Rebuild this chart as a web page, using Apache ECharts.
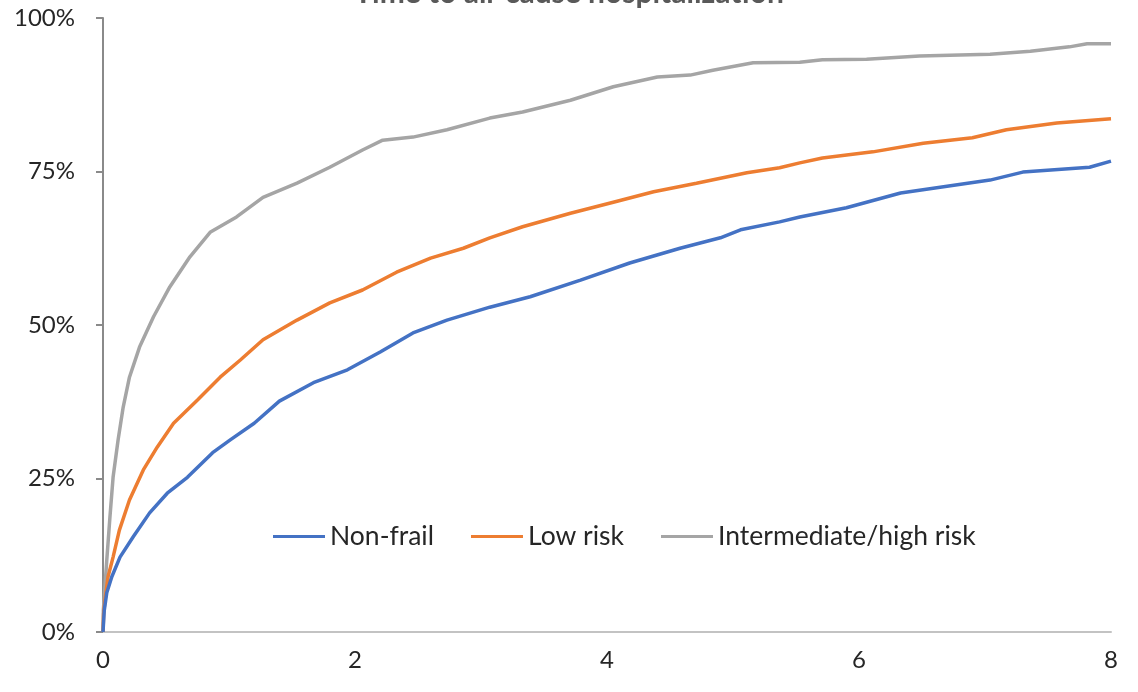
<!DOCTYPE html>
<html>
<head>
<meta charset="utf-8">
<script src="https://cdn.jsdelivr.net/npm/echarts@6/dist/echarts.min.js"></script>
<style>html,body{margin:0;padding:0;background:#fff;}#c{width:1138px;height:692px;}</style>
</head>
<body>
<div id="c"></div>
<script>
const titleText = "Time to all-cause hospitalization";
const seriesNames = ["Non-frail", "Low risk", "Intermediate/high risk"];
const yTicks = [0, 25, 50, 75, 100];
const xTicks = [0, 2, 4, 6, 8];

const nonFrail = [
  [0,0],[0.01,3.5],[0.03,6.4],[0.07,9.0],[0.135,12.2],[0.24,15.5],[0.37,19.4],[0.51,22.6],
  [0.67,25.2],[0.87,29.2],[1.01,31.3],[1.20,34.0],[1.40,37.6],[1.67,40.6],[1.94,42.7],
  [2.20,45.6],[2.46,48.7],[2.73,50.8],[3.07,52.9],[3.39,54.6],[3.79,57.3],[4.18,60.1],
  [4.58,62.5],[4.90,64.2],[5.06,65.5],[5.37,66.8],[5.53,67.6],[5.90,69.1],[6.33,71.5],
  [7.04,73.6],[7.30,74.9],[7.83,75.7],[8.0,76.7]
];
const lowRisk = [
  [0,0],[0.005,3.0],[0.016,5.2],[0.04,9.0],[0.08,12.2],[0.13,16.6],[0.21,21.5],[0.32,26.4],
  [0.43,30.1],[0.56,34.0],[0.75,37.8],[0.93,41.5],[1.09,44.3],[1.27,47.6],[1.54,50.8],
  [1.80,53.6],[2.06,55.7],[2.33,58.6],[2.60,60.9],[2.86,62.5],[3.07,64.2],[3.33,66.0],
  [3.71,68.2],[4.05,70.0],[4.37,71.7],[4.71,73.1],[5.11,74.8],[5.37,75.6],[5.53,76.4],
  [5.71,77.2],[6.11,78.2],[6.51,79.6],[6.90,80.5],[7.17,81.8],[7.57,82.9],[8.0,83.6]
];
const highRisk = [
  [0,0],[0.003,3.6],[0.03,11.7],[0.055,18.7],[0.08,25.2],[0.12,31.3],[0.16,36.6],[0.21,41.5],
  [0.29,46.4],[0.40,51.3],[0.53,56.2],[0.69,61.1],[0.85,65.1],[1.06,67.6],[1.27,70.8],
  [1.54,73.1],[1.80,75.7],[2.06,78.5],[2.22,80.1],[2.46,80.6],[2.73,81.8],[3.07,83.7],
  [3.33,84.7],[3.71,86.6],[4.05,88.8],[4.40,90.4],[4.66,90.7],[4.84,91.5],[5.16,92.7],
  [5.53,92.8],[5.71,93.2],[6.06,93.3],[6.48,93.8],[7.04,94.1],[7.36,94.6],[7.67,95.3],
  [7.81,95.8],[8.0,95.8]
];
const colors = ["#4472C4", "#ED7D31", "#A5A5A5"];
const datasets = [nonFrail, lowRisk, highRisk];

const chart = echarts.init(document.getElementById('c'), null, {renderer: 'canvas'});
const font = "Lato, 'Open Sans', sans-serif";
chart.setOption({
  animation: false,
  backgroundColor: '#ffffff',
  title: {
    text: titleText, left: 'center', top: -27,
    textStyle: {fontFamily: font, fontSize: 30, fontWeight: 'bold', color: '#595959'}
  },
  grid: {left: 103, right: 27, top: 18, bottom: 60, containLabel: false},
  legend: {
    data: seriesNames, left: 268, top: 518, icon: 'rect', itemWidth: 52, itemHeight: 3,
    itemGap: 37,
    textStyle: {fontFamily: font, fontSize: 26.5, color: '#262626'}
  },
  xAxis: {
    type: 'value', min: xTicks[0], max: xTicks[xTicks.length-1], interval: 2,
    axisLine: {show: true, lineStyle: {color: '#c3c3c3', width: 2}},
    axisTick: {show: false},
    splitLine: {show: false},
    axisLabel: {fontFamily: font, fontSize: 24, color: '#262626', margin: 16}
  },
  yAxis: {
    type: 'value', min: yTicks[0], max: yTicks[yTicks.length-1], interval: 25,
    axisLine: {show: true, lineStyle: {color: '#8a8a8a', width: 2}},
    axisTick: {show: true, length: 7, lineStyle: {color: '#8a8a8a', width: 2}},
    splitLine: {show: false},
    axisLabel: {fontFamily: font, fontSize: 24, color: '#262626', margin: 28, formatter: '{value}%'}
  },
  series: seriesNames.map((n, i) => ({
    name: n, type: 'line', data: datasets[i], showSymbol: false, symbol: 'none',
    lineStyle: {color: colors[i], width: 3.5}, itemStyle: {color: colors[i]}, z: 3 - i
  }))
});
</script>
</body>
</html>
